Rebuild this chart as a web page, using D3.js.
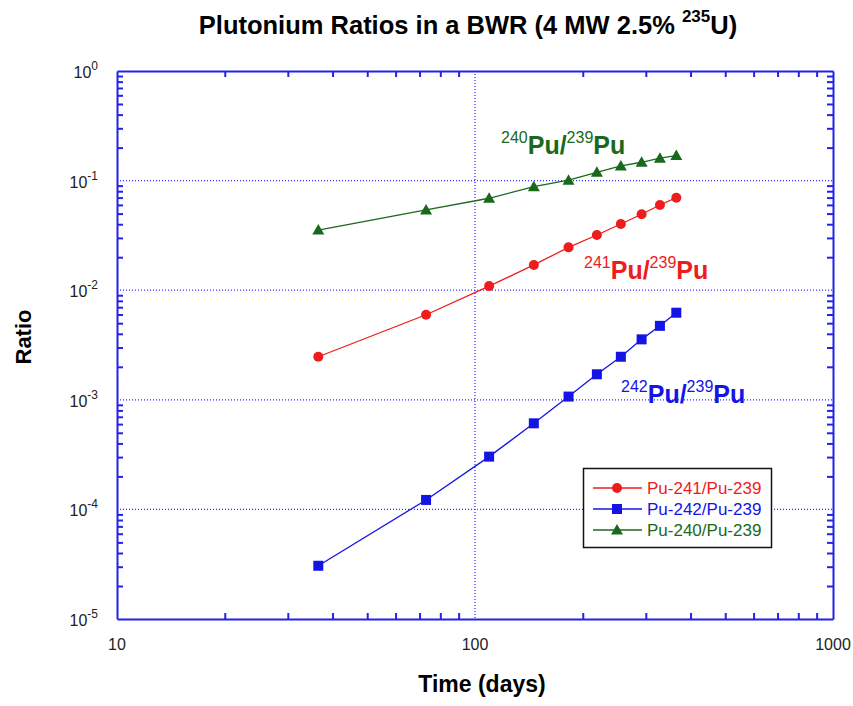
<!DOCTYPE html><html>
<head>
<meta charset="utf-8">
<title>Plutonium Ratios</title>
<style>
  body { margin: 0; background: #fff; }
  text { font-family: "Liberation Sans", Arial, sans-serif; }
</style>
</head><body>
<svg width="853" height="706"></svg>
<script src="https://cdn.jsdelivr.net/npm/d3@7"></script>
<script>
// time in days, one point every 36.5 days
var days = [36.5, 73, 109.5, 146, 182.5, 219, 255.5, 292, 328.5, 365];
var pu241 = [0.00247, 0.00597, 0.0109, 0.0170, 0.0246, 0.0319, 0.0402, 0.0493, 0.0599, 0.0698];
var pu242 = [3.06e-5, 1.22e-4, 3.03e-4, 6.1e-4, 1.07e-3, 1.71e-3, 2.47e-3, 3.56e-3, 4.73e-3, 6.23e-3];
var pu240 = [0.0354, 0.054, 0.069, 0.088, 0.101, 0.119, 0.136, 0.147, 0.160, 0.169];
var xDecades = [10, 100, 1000];
var yExps = [0, -1, -2, -3, -4, -5];

var series = [
  {name: 'Pu-241/Pu-239', vals: pu241, color: '#ee1c1c', marker: 'circle',   iso: '241'},
  {name: 'Pu-242/Pu-239', vals: pu242, color: '#1414e6', marker: 'square',   iso: '242'},
  {name: 'Pu-240/Pu-239', vals: pu240, color: '#19681c', marker: 'triangle', iso: '240'}
];

var L = 117, R = 833, T = 71, B = 619;
var x = d3.scaleLog().domain([10, 1000]).range([L, R]);
var y = d3.scaleLog().domain([1e-5, 1]).range([B, T]);
var svg = d3.select('svg');
var axisColor = '#2323e8';

// minor tick values
var xTicks = [], yTicks = [];
[10, 100].forEach(function(d) { for (var k = 2; k < 10; k++) xTicks.push(d * k); });
for (var e = -5; e < 0; e++) for (var k = 2; k < 10; k++) yTicks.push(k * Math.pow(10, e));

// grid (dotted)
var grid = svg.append('g').attr('stroke', '#3030ff').attr('stroke-width', 1.3)
  .attr('stroke-dasharray', '1,2');
grid.selectAll('.gy').data([1e-1, 1e-2, 1e-3, 1e-4]).enter().append('line')
  .attr('x1', L).attr('x2', R).attr('y1', function(d) { return y(d); }).attr('y2', function(d) { return y(d); });
grid.append('line').attr('x1', x(100)).attr('x2', x(100)).attr('y1', T).attr('y2', B);

function styleAxis(g) {
  g.selectAll('path').attr('stroke', axisColor).attr('stroke-width', 2);
  g.selectAll('line').attr('stroke', axisColor).attr('stroke-width', 2);
  g.selectAll('text').remove();
}
svg.append('g').attr('transform', 'translate(0,' + B + ')')
  .call(d3.axisBottom(x).tickValues(xTicks).tickSize(-6).tickSizeOuter(0)).call(styleAxis);
svg.append('g').attr('transform', 'translate(0,' + T + ')')
  .call(d3.axisTop(x).tickValues(xTicks).tickSize(-6).tickSizeOuter(0)).call(styleAxis);
svg.append('g').attr('transform', 'translate(' + L + ',0)')
  .call(d3.axisLeft(y).tickValues(yTicks).tickSize(-6).tickSizeOuter(0)).call(styleAxis);
svg.append('g').attr('transform', 'translate(' + R + ',0)')
  .call(d3.axisRight(y).tickValues(yTicks).tickSize(-6).tickSizeOuter(0)).call(styleAxis);

// tick labels
svg.selectAll('.xl').data(xDecades).enter().append('text')
  .attr('x', function(d) { return x(d); }).attr('y', 650)
  .attr('text-anchor', 'middle').attr('font-size', 16).attr('fill', '#222')
  .text(function(d) { return d; });
var yl = svg.selectAll('.yl').data(yExps).enter().append('text')
  .attr('x', 98).attr('y', function(d) { return y(Math.pow(10, d)) + 7; })
  .attr('text-anchor', 'end').attr('font-size', 16).attr('fill', '#222');
yl.append('tspan').text('10');
yl.append('tspan').attr('dy', -8).attr('font-size', 12).text(function(d) { return d; });

// lines and markers
var line = d3.line().x(function(d) { return x(d[0]); }).y(function(d) { return y(d[1]); });
function drawMarker(g, type, color) {
  if (type === 'circle') g.append('circle').attr('r', 5).attr('fill', color);
  else if (type === 'square') g.append('rect').attr('x', -5).attr('y', -5).attr('width', 10).attr('height', 10).attr('fill', color);
  else g.append('path').attr('d', 'M0,-6L6,4.5L-6,4.5Z').attr('fill', color);
}
series.forEach(function(s) {
  var pts = days.map(function(d, i) { return [d, s.vals[i]]; });
  svg.append('path').datum(pts).attr('d', line).attr('fill', 'none')
    .attr('stroke', s.color).attr('stroke-width', 1.3);
  pts.forEach(function(p) {
    var g = svg.append('g').attr('transform', 'translate(' + x(p[0]) + ',' + y(p[1]) + ')');
    drawMarker(g, s.marker, s.color);
  });
});

// in-plot labels
var annot = [
  {s: series[2], x: 501, y: 154},
  {s: series[0], x: 584, y: 279},
  {s: series[1], x: 621, y: 403}
];
annot.forEach(function(a) {
  var t = svg.append('text').attr('x', a.x).attr('y', a.y).attr('fill', a.s.color);
  t.append('tspan').attr('font-size', 16).attr('dy', -11).text(a.s.iso);
  t.append('tspan').attr('font-size', 25).attr('font-weight', 'bold').attr('dy', 11).text('Pu/');
  t.append('tspan').attr('font-size', 16).attr('dy', -11).text('239');
  t.append('tspan').attr('font-size', 25).attr('font-weight', 'bold').attr('dy', 11).text('Pu');
});

// legend
var lg = svg.append('g');
lg.append('rect').attr('x', 583.5).attr('y', 468.5).attr('width', 188).attr('height', 79)
  .attr('fill', '#fff').attr('stroke', '#111').attr('stroke-width', 1.5);
series.forEach(function(s, i) {
  var cy = 488 + i * 21;
  lg.append('line').attr('x1', 593).attr('x2', 642).attr('y1', cy).attr('y2', cy)
    .attr('stroke', s.color).attr('stroke-width', 1.3);
  var g = lg.append('g').attr('transform', 'translate(617,' + cy + ')');
  drawMarker(g, s.marker, s.color);
  lg.append('text').attr('x', 647).attr('y', cy + 6).attr('font-size', 17)
    .attr('fill', s.color).text(s.name);
});

// titles
var title = svg.append('text').attr('x', 468).attr('y', 34).attr('text-anchor', 'middle')
  .attr('font-size', 25.5).attr('font-weight', 'bold').attr('fill', '#000');
title.append('tspan').text('Plutonium Ratios in a BWR (4 MW 2.5% ');
title.append('tspan').attr('font-size', 17).attr('dy', -12).text('235');
title.append('tspan').attr('dy', 12).text('U)');

svg.append('text').attr('x', 482).attr('y', 692).attr('text-anchor', 'middle')
  .attr('font-size', 23).attr('font-weight', 'bold').text('Time (days)');
svg.append('text').attr('transform', 'translate(31,337) rotate(-90)').attr('text-anchor', 'middle')
  .attr('font-size', 22).attr('font-weight', 'bold').text('Ratio');
</script>
</body></html>
